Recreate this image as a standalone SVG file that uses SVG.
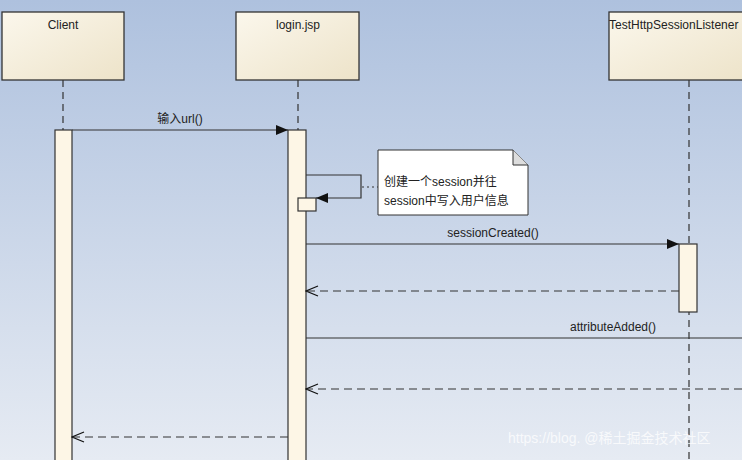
<svg xmlns="http://www.w3.org/2000/svg" width="742" height="460" viewBox="0 0 742 460">
<style>
.box{fill:url(#bx);stroke:#333;stroke-width:1.3}
.act{fill:#fdf6e6;stroke:#333;stroke-width:1.2}
.life{stroke:#333;stroke-width:1.2;stroke-dasharray:7,5;fill:none}
.msg{stroke:#333;stroke-width:1.2;fill:none}
.ret{stroke:#333;stroke-width:1.2;fill:none;stroke-dasharray:8,5}
.t{font-family:"Liberation Sans",Arial,"Noto Sans CJK SC",sans-serif;font-size:12px;fill:#222}
</style>
<defs>
<linearGradient id="bg" x1="0" y1="0" x2="0" y2="1"><stop offset="0" stop-color="#aec1de"/><stop offset="1" stop-color="#e6ebf3"/></linearGradient>
<linearGradient id="bx" x1="0" y1="0" x2="1" y2="1"><stop offset="0" stop-color="#fbf7ec"/><stop offset="1" stop-color="#ede3c9"/></linearGradient>
<marker id="fa" markerWidth="12" markerHeight="10" refX="12" refY="5" orient="auto" markerUnits="userSpaceOnUse"><path d="M0,0L12,5L0,10z" fill="#111"/></marker>
<marker id="oa" markerWidth="14" markerHeight="12" refX="13" refY="6" orient="auto" markerUnits="userSpaceOnUse"><path d="M1,1L13,6L1,11" fill="none" stroke="#111" stroke-width="1.2"/></marker>
</defs>
<rect width="742" height="460" fill="url(#bg)"/>
<g id="client"><rect class="box" x="2" y="12" width="122" height="68"/><text class="t" x="63" y="29" text-anchor="middle">Client</text><line class="life" x1="63" y1="80" x2="63" y2="130"/><rect class="act" x="55" y="130" width="17" height="335"/></g>
<g id="login"><rect class="box" x="236" y="12" width="123" height="68"/><text class="t" x="298" y="29" text-anchor="middle">login.jsp</text><line class="life" x1="298" y1="80" x2="298" y2="130"/><rect class="act" x="288" y="130" width="18" height="335"/><rect class="act" x="298" y="198" width="18" height="13"/></g>
<g id="listener"><rect class="box" x="609" y="12" width="140" height="68"/><text class="t" x="609" y="29" font-size="12.5">TestHttpSessionListener</text><line class="life" x1="689" y1="80" x2="689" y2="460"/><rect class="act" x="679" y="244" width="18" height="68"/></g>
<g id="note"><path d="M378,150H513L528,165V215H378Z" fill="#fff" stroke="#333" stroke-width="1"/><path d="M513,150V165H528" fill="#ddd" stroke="#333" stroke-width="1"/><text class="t" x="384" y="186">创建一个session并往</text><text class="t" x="384" y="205">session中写入用户信息</text></g>
<g id="connectors">
<line class="msg" x1="72" y1="130" x2="288" y2="130" marker-end="url(#fa)"/>
<text class="t" x="180" y="123" text-anchor="middle">输入url()</text>
<path class="msg" d="M306,175H361V198H316" marker-end="url(#fa)"/>
<line stroke="#333" stroke-width="1" stroke-dasharray="2,3" x1="362" y1="187" x2="378" y2="187"/>
<line class="msg" x1="306" y1="244" x2="679" y2="244" marker-end="url(#fa)"/>
<text class="t" x="493" y="237" text-anchor="middle">sessionCreated()</text>
<line class="ret" x1="679" y1="291" x2="306" y2="291" marker-end="url(#oa)"/>
<line class="msg" x1="306" y1="338" x2="742" y2="338"/>
<text class="t" x="613" y="331" text-anchor="middle">attributeAdded()</text>
<line class="ret" x1="742" y1="389" x2="306" y2="389" marker-end="url(#oa)"/>
<line class="ret" x1="288" y1="437" x2="72" y2="437" marker-end="url(#oa)"/>
</g>
<text x="508" y="443" font-family="Liberation Sans,Noto Sans CJK SC,sans-serif" font-size="14" fill="#fff" fill-opacity="0.75">https://blog. @稀土掘金技术社区</text>
</svg>
